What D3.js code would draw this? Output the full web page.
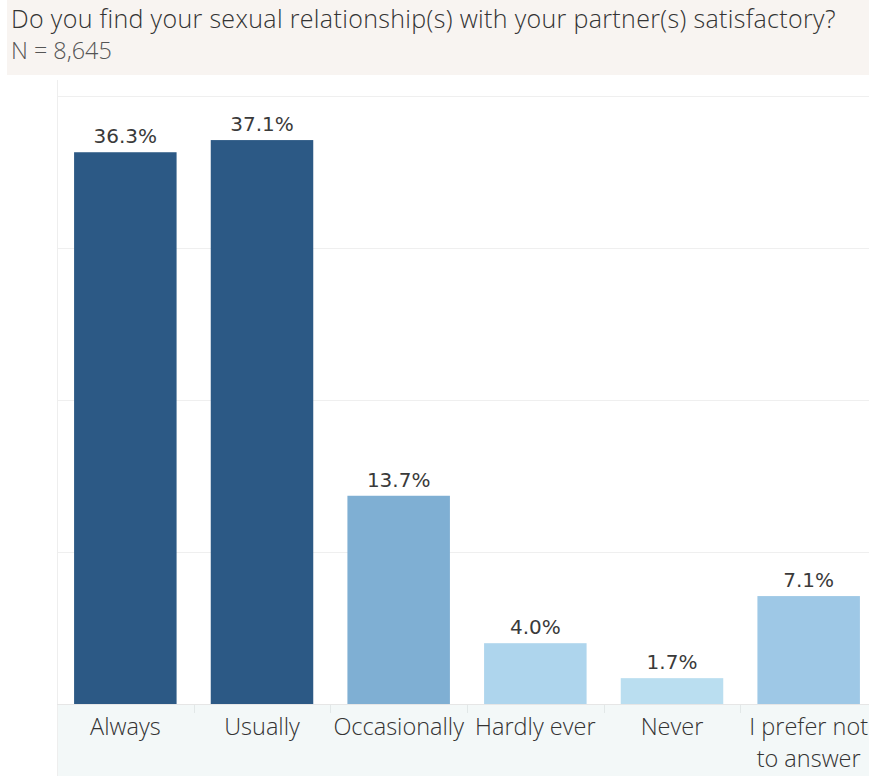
<!DOCTYPE html>
<html>
<head>
<meta charset="utf-8">
<script src="https://cdn.jsdelivr.net/npm/d3@7"></script>
<style>
  html, body { margin: 0; padding: 0; background: #fff; }
  svg { display: block; }
</style>
</head>
<body>
<div id="chart"></div>
<script>
// Survey answers and their shares (%)
const categories = ["Always", "Usually", "Occasionally", "Hardly ever", "Never", "I prefer not to answer"];
const values = [36.3, 37.1, 13.7, 4.0, 1.7, 7.1];
const barColors = ["#2c5985", "#2c5985", "#7fafd3", "#aed5ed", "#badef0", "#9ec8e6"];
const gridTicks = [0, 10, 20, 30, 40];
const title = "Do you find your sexual relationship(s) with your partner(s) satisfactory?";
const subtitle = "N = 8,645";

const W = 869, H = 776;
const svg = d3.select("#chart").append("svg").attr("width", W).attr("height", H);

// Header panel
svg.append("rect").attr("x", 7).attr("y", 0).attr("width", W - 7).attr("height", 75).attr("fill", "#f8f4f1");
svg.append("text").attr("x", 11).attr("y", 28)
  .attr("font-family", "Open Sans, sans-serif").attr("font-weight", 300)
  .attr("font-size", 25).attr("letter-spacing", 0.34).attr("fill", "#333")
  .text(title);
svg.append("text").attr("x", 11).attr("y", 59)
  .attr("font-family", "Open Sans, sans-serif").attr("font-weight", 300)
  .attr("font-size", 23.4).attr("fill", "#555")
  .text(subtitle);

const plotLeft = 57, plotRight = 877, plotTop = 96, plotBottom = 704;

const x = d3.scaleBand().domain(categories).range([plotLeft, plotRight]).paddingInner(0.25).paddingOuter(0.125);
const y = d3.scaleLinear().domain([0, 40]).range([plotBottom, plotTop]);

// Axis band under the bars
svg.append("rect").attr("x", plotLeft).attr("y", plotBottom + 1).attr("width", W - plotLeft).attr("height", H - plotBottom - 1)
  .attr("fill", "#f3f8f8");

// Gridlines
svg.append("g").selectAll("line").data(gridTicks.slice(1)).join("line")
  .attr("x1", plotLeft).attr("x2", W)
  .attr("y1", d => Math.round(y(d)) + 0.5).attr("y2", d => Math.round(y(d)) + 0.5)
  .attr("stroke", "#efefef").attr("stroke-width", 1);

// Left axis rule
svg.append("line").attr("x1", plotLeft + 0.5).attr("x2", plotLeft + 0.5).attr("y1", 80).attr("y2", H)
  .attr("stroke", "#eeeeee");

// Baseline
svg.append("line").attr("x1", plotLeft).attr("x2", W).attr("y1", plotBottom + 0.5).attr("y2", plotBottom + 0.5)
  .attr("stroke", "#e6e6e6");

// Category separators in the axis band
const step = x.step();
svg.append("g").selectAll("line").data(categories.slice(1)).join("line")
  .attr("x1", d => Math.round(x(d) - step * 0.125) + 0.5)
  .attr("x2", d => Math.round(x(d) - step * 0.125) + 0.5)
  .attr("y1", plotBottom + 1).attr("y2", plotBottom + 9)
  .attr("stroke", "#e2e8e8");

// Bars
svg.append("g").selectAll("rect").data(categories).join("rect")
  .attr("x", d => x(d)).attr("width", x.bandwidth())
  .attr("y", (d, i) => y(values[i])).attr("height", (d, i) => plotBottom - y(values[i]))
  .attr("fill", (d, i) => barColors[i]);

// Value labels
svg.append("g").selectAll("text").data(categories).join("text")
  .attr("x", d => x(d) + x.bandwidth() / 2)
  .attr("y", (d, i) => y(values[i]) - 9)
  .attr("text-anchor", "middle")
  .attr("font-family", "DejaVu Sans, sans-serif").attr("font-size", 20).attr("fill", "#3a3a3a")
  .text((d, i) => values[i].toFixed(1) + "%");

// Category labels (long ones wrap onto two lines)
const catLines = { "I prefer not to answer": ["I prefer not", "to answer"] };
const labels = svg.append("g").selectAll("text").data(categories).join("text")
  .attr("x", d => x(d) + x.bandwidth() / 2)
  .attr("y", 735)
  .attr("text-anchor", "middle")
  .attr("font-family", "Open Sans, sans-serif").attr("font-weight", 300)
  .attr("font-size", 23.5).attr("fill", "#333");
labels.each(function (d) {
  const lines = catLines[d] || [d];
  const t = d3.select(this);
  lines.forEach((ln, k) => {
    t.append("tspan").attr("x", x(d) + x.bandwidth() / 2).attr("dy", k === 0 ? 0 : 32).text(ln);
  });
});
</script>
</body>
</html>
